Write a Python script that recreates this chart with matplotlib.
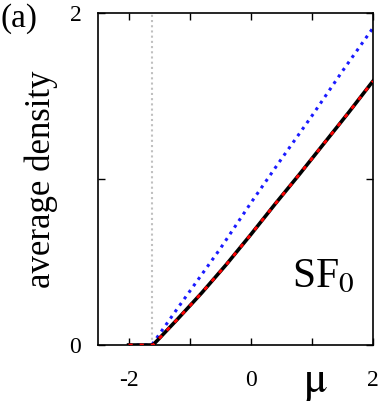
import matplotlib
matplotlib.use("Agg")
import matplotlib.pyplot as plt
from matplotlib.ticker import MultipleLocator

plt.rcParams['font.family'] = ['Liberation Serif', 'DejaVu Serif']

# data
mu_black = [-2.0, -1.6, -1.2, -0.8, -0.4, 0.0, 0.4, 0.8, 1.2, 1.6, 2.0]
dens_black = [0.0, 0.0, 0.155, 0.315, 0.485, 0.665, 0.85, 1.03, 1.215, 1.40, 1.59]
mu_red = mu_black
dens_red = dens_black
mu_blue = [-2.0, -1.62, -1.2, -0.5, 0.0, 0.5, 1.0, 1.5, 2.0]
dens_blue = [0.0, 0.0, 0.22, 0.58, 0.855, 1.12, 1.38, 1.65, 1.91]
mu_c = -1.61
xticks = [-2, 0, 2]
xtick_labels = ['-2', '0', '2']
yticks = [0, 2]
ytick_labels = ['0', '2']

fig = plt.figure(figsize=(3.82, 4.03), dpi=100)
ax = fig.add_axes([0.2565, 0.1439, 0.7199, 0.8238])

ax.axvline(mu_c, color='#c0c0c0', linestyle=(0, (1, 1.5)), lw=1.5, zorder=1)
ax.plot(mu_blue, dens_blue, color='#1a1aff', linestyle=(0, (1, 1.6)), lw=2.2, zorder=2)
ax.plot(mu_black, dens_black, color='black', lw=2.6, zorder=3)
ax.plot(mu_red, dens_red, color='red', linestyle=(0, (1.5, 2.5)), lw=2.0, zorder=4)

ax.set_xlim(-2.5, 2)
ax.set_ylim(0, 2)
ax.set_xticks(xticks)
ax.set_xticklabels(xtick_labels)
ax.set_yticks(yticks)
ax.set_yticklabels(ytick_labels)
ax.xaxis.set_minor_locator(MultipleLocator(1))
ax.yaxis.set_minor_locator(MultipleLocator(1))
ax.tick_params(which='both', direction='in', top=True, right=True, labelsize=17, width=1)
ax.tick_params(which='major', length=5)
ax.tick_params(which='minor', length=5)
ax.tick_params(axis='x', pad=18)
ax.tick_params(axis='y', pad=12)
for s in ax.spines.values():
    s.set_linewidth(1.2)

ax.set_ylabel('average density', fontsize=25, labelpad=8)
ax.text(0.79, -0.115, r'$\mathrm{\mu}$', transform=ax.transAxes, fontsize=32, ha='center', va='center',
        math_fontfamily='stix')
ax.text(0.82, 0.205, r'SF$_0$', transform=ax.transAxes, fontsize=30, ha='center', va='center',
        math_fontfamily='stix')
fig.text(0.0, 0.955, '(a)', fontsize=24, ha='left', va='center')

fig.savefig('out.png', dpi=100)
